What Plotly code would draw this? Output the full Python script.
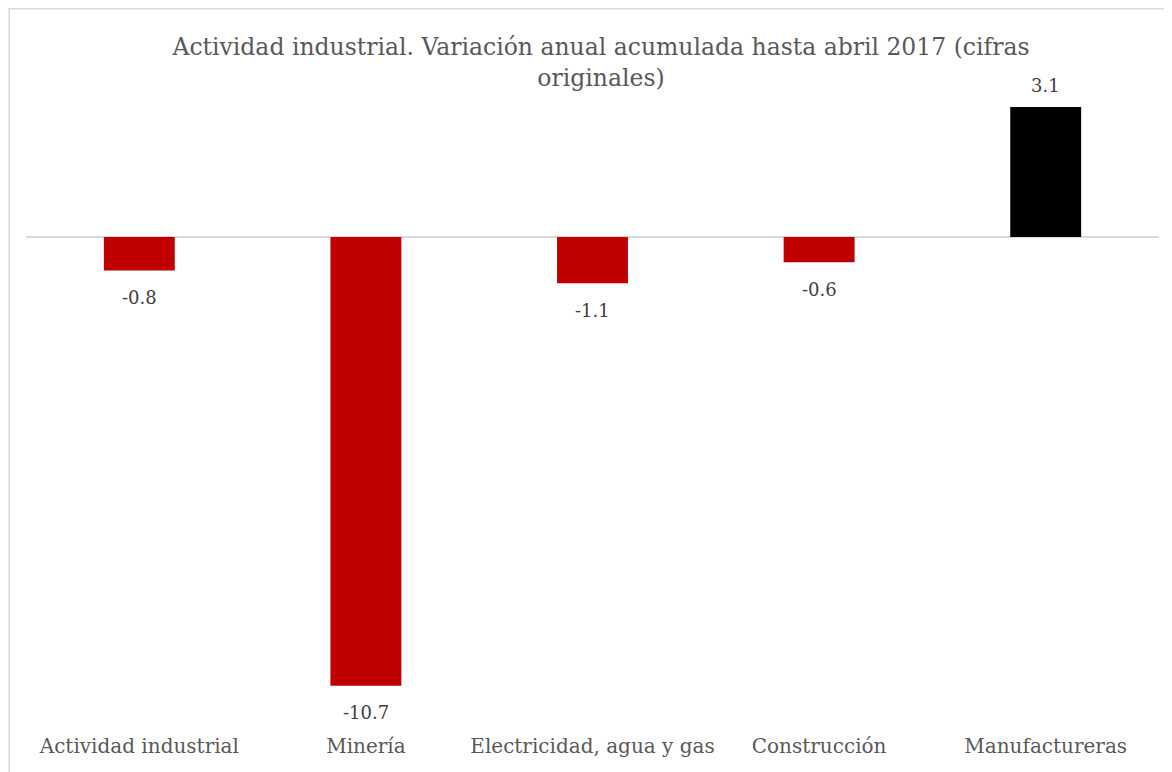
import plotly.graph_objects as go

categories = ["Actividad industrial", "Minería", "Electricidad, agua y gas", "Construcción", "Manufactureras"]
values = [-0.8, -10.7, -1.1, -0.6, 3.1]
colors = ["#C00000", "#C00000", "#C00000", "#C00000", "#000000"]
title_text = "Actividad industrial. Variación anual acumulada hasta abril 2017 (cifras<br>originales)"

W, H = 1164, 764
ml, mr, mt, mb = 17.6, 12.6, 92, 40
pw = W - ml - mr
ph = H - mt - mb

font_family = "DejaVu Serif, Liberation Serif, serif"

fig = go.Figure(go.Bar(
    x=categories, y=values, marker_color=colors, marker_line_width=0,
))

for c, v in zip(categories, values):
    fig.add_annotation(
        x=c, y=v, text=f"{v:.1f}", showarrow=False,
        yanchor="middle", yshift=21 if v >= 0 else -27,
        font=dict(family=font_family, size=18, color="#404040"),
    )

fig.update_layout(
    width=W, height=H,
    margin=dict(l=ml, r=mr, t=mt, b=mb),
    paper_bgcolor="white", plot_bgcolor="white",
    bargap=0.687,
    showlegend=False,
    title=dict(text=title_text, x=593 / W, xanchor="center", y=1 - 47 / H, yanchor="middle",
               font=dict(family=font_family, size=23.5, color="#595959")),
    xaxis=dict(showgrid=False, showline=False, zeroline=False, ticks="",
               tickfont=dict(family=font_family, size=20, color="#595959")),
    yaxis=dict(range=[-11.80, 3.266], showgrid=False, showticklabels=False, ticks="",
               zeroline=True, zerolinecolor="#D9D9D9", zerolinewidth=1.5, showline=False),
    shapes=[dict(type="rect", xref="paper", yref="paper",
                 x0=(0.75 - ml) / pw, x1=(1185 - ml) / pw,
                 y0=-(790 - (H - mb)) / ph, y1=1 + (mt - 0.75) / ph,
                 line=dict(color="#D9D9D9", width=1.5), fillcolor="rgba(0,0,0,0)", layer="below")],
)

fig.write_html("out.html")
